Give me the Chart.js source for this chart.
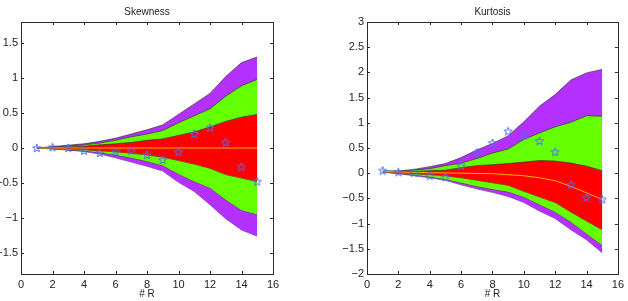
<!DOCTYPE html>
<html>
<head>
<meta charset="utf-8">
<script src="https://cdn.jsdelivr.net/npm/chart.js@4.4.1/dist/chart.umd.min.js"></script>
<style>
  html, body { margin: 0; padding: 0; background: #fff; }
  .panel { position: absolute; top: 0; width: 314px; height: 301px; }
</style>
</head>
<body>
<div class="panel" style="left:0"><canvas id="skewChart" width="314" height="301"></canvas></div>
<div class="panel" style="left:314px"><canvas id="kurtChart" width="314" height="301"></canvas></div>
<script>
// x positions (# R) and tick values
const rValues = [1, 2, 3, 4, 5, 6, 7, 8, 9, 10, 11, 12, 13, 14, 15];
const xTicks = [0, 2, 4, 6, 8, 10, 12, 14, 16];
const skewYTicks = [-1.5, -1, -0.5, 0, 0.5, 1, 1.5];
const kurtYTicks = [-2, -1.5, -1, -0.5, 0, 0.5, 1, 1.5, 2, 2.5, 3];

// Skewness bands
const skewPurpleHi = [0, 0.02, 0.04, 0.06, 0.095, 0.14, 0.2, 0.26, 0.33, 0.48, 0.63, 0.78, 1.02, 1.22, 1.3];
const skewGreenHi = [0, 0.01, 0.025, 0.045, 0.07, 0.11, 0.16, 0.2, 0.25, 0.36, 0.46, 0.56, 0.74, 0.89, 0.98];
const skewRedHi = [0, 0.005, 0.015, 0.025, 0.045, 0.06, 0.08, 0.11, 0.13, 0.18, 0.23, 0.3, 0.38, 0.44, 0.48];
const skewMedian = [0, 0, 0, 0, 0, 0, 0, 0, 0, 0, 0, 0, 0, 0, 0];
const skewRedLo = [0, -0.005, -0.015, -0.025, -0.04, -0.055, -0.075, -0.1, -0.13, -0.18, -0.23, -0.29, -0.38, -0.43, -0.48];
const skewGreenLo = [0, -0.01, -0.025, -0.04, -0.065, -0.1, -0.14, -0.19, -0.25, -0.37, -0.48, -0.57, -0.74, -0.89, -0.95];
const skewPurpleLo = [0, -0.015, -0.03, -0.05, -0.085, -0.14, -0.2, -0.26, -0.33, -0.49, -0.62, -0.81, -1.01, -1.17, -1.26];
const skewObserved = [0, 0.01, 0, -0.04, -0.07, -0.05, -0.04, -0.1, -0.17, -0.06, 0.2, 0.29, 0.08, -0.27, -0.48];

// Kurtosis bands
const kurtPurpleHi = [0.045, 0.045, 0.075, 0.13, 0.19, 0.31, 0.46, 0.59, 0.74, 1.02, 1.33, 1.56, 1.85, 1.99, 2.06];
const kurtGreenHi = [0.04, 0.04, 0.06, 0.09, 0.15, 0.2, 0.29, 0.4, 0.48, 0.67, 0.8, 0.92, 1.01, 1.14, 1.13];
const kurtRedHi = [0.04, 0.03, 0.035, 0.05, 0.06, 0.11, 0.15, 0.17, 0.19, 0.22, 0.25, 0.24, 0.2, 0.14, 0.05];
const kurtMedian = [0.035, 0.025, 0.015, 0.01, 0.005, 0, -0.005, -0.01, -0.03, -0.05, -0.09, -0.15, -0.26, -0.39, -0.52];
const kurtRedLo = [0.03, 0.01, -0.01, -0.03, -0.05, -0.09, -0.14, -0.19, -0.24, -0.36, -0.47, -0.58, -0.77, -0.95, -1.12];
const kurtGreenLo = [0.025, 0, -0.03, -0.07, -0.12, -0.19, -0.26, -0.32, -0.37, -0.47, -0.62, -0.77, -0.97, -1.2, -1.43];
const kurtPurpleLo = [0.02, -0.01, -0.05, -0.09, -0.14, -0.23, -0.31, -0.38, -0.46, -0.58, -0.75, -0.9, -1.12, -1.32, -1.58];
const kurtObserved = [0.05, 0.02, 0.01, -0.05, -0.08, 0.15, 0.41, 0.6, 0.83, 0.75, 0.64, 0.42, -0.23, -0.48, -0.52];

const FONT = '"Liberation Sans", Arial, sans-serif';
const PURPLE = 'rgb(180, 48, 255)';
const GREEN = 'rgb(100, 255, 0)';
const RED = 'rgb(255, 0, 0)';
const EDGE = 'rgba(50, 50, 50, 0.85)';
const MEDIAN = 'rgb(255, 176, 0)';
const STAR = 'rgb(80, 110, 245)';

// pentagram marker like matlab's 'p'
function makeStar() {
  const c = document.createElement('canvas');
  c.width = 10; c.height = 10;
  const g = c.getContext('2d');
  const R = 4.4, r = 1.8, cx = 5, cy = 5.3;
  g.beginPath();
  for (let i = 0; i < 10; i++) {
    const rad = i % 2 === 0 ? R : r;
    const a = -Math.PI / 2 + i * Math.PI / 5;
    const px = cx + rad * Math.cos(a), py = cy + rad * Math.sin(a);
    if (i === 0) g.moveTo(px, py); else g.lineTo(px, py);
  }
  g.closePath();
  g.strokeStyle = STAR;
  g.lineWidth = 1;
  g.stroke();
  return c;
}
const starImg = makeStar();

const pts = vals => vals.map((v, i) => ({ x: rValues[i], y: v }));
const fmt = v => String(v).replace('-', '\u2212');

function band(hi, lo, color, order) {
  return [
    { data: pts(hi), fill: '+1', backgroundColor: color, borderColor: EDGE, borderWidth: 0.8, pointRadius: 0, order: order },
    { data: pts(lo), fill: false, borderColor: EDGE, borderWidth: 0.8, pointRadius: 0, order: order }
  ];
}

// matlab-ish box with inward ticks and a title above the plot
const boxPlugin = {
  id: 'matlabBox',
  afterDraw(chart, args, opts) {
    const { ctx, chartArea: a, scales } = chart;
    ctx.save();
    ctx.strokeStyle = '#2a2a2a';
    ctx.lineWidth = 1;
    ctx.strokeRect(Math.round(a.left) + 0.5, Math.round(a.top) + 0.5, Math.round(a.right - a.left), Math.round(a.bottom - a.top));
    ctx.beginPath();
    scales.x.ticks.forEach(t => {
      const px = Math.round(scales.x.getPixelForValue(t.value)) + 0.5;
      ctx.moveTo(px, a.bottom); ctx.lineTo(px, a.bottom - 3);
      ctx.moveTo(px, a.top); ctx.lineTo(px, a.top + 3);
    });
    scales.y.ticks.forEach(t => {
      const py = Math.round(scales.y.getPixelForValue(t.value)) + 0.5;
      ctx.moveTo(a.left, py); ctx.lineTo(a.left + 3, py);
      ctx.moveTo(a.right, py); ctx.lineTo(a.right - 3, py);
    });
    ctx.stroke();
    ctx.fillStyle = '#222';
    ctx.font = '10px ' + FONT;
    ctx.textAlign = 'center';
    ctx.textBaseline = 'middle';
    ctx.fillText(opts.text, (a.left + a.right) / 2, 12.5);
    ctx.restore();
  }
};

function makeChart(id, cfg) {
  return new Chart(document.getElementById(id), {
    type: 'line',
    data: {
      datasets: [
        { data: pts(cfg.observed), showLine: false, pointStyle: starImg, pointRadius: 5, order: 0 },
        { data: pts(cfg.median), borderColor: MEDIAN, borderWidth: 1, pointRadius: 0, fill: false, order: 1 },
        ...band(cfg.redHi, cfg.redLo, RED, 2),
        ...band(cfg.greenHi, cfg.greenLo, GREEN, 3),
        ...band(cfg.purpleHi, cfg.purpleLo, PURPLE, 4)
      ]
    },
    options: {
      responsive: false,
      animation: false,
      layout: { padding: { top: 22, bottom: 0, left: 0, right: cfg.padRight } },
      plugins: {
        legend: { display: false },
        tooltip: { enabled: false },
        matlabBox: { text: cfg.title }
      },
      scales: {
        x: {
          type: 'linear', min: 0, max: 16,
          afterBuildTicks: s => { s.ticks = xTicks.map(v => ({ value: v })); },
          afterFit: s => { s.height = 27; },
          grid: { display: false, drawTicks: false },
          border: { display: false },
          ticks: { padding: 4, color: '#222', font: { family: FONT, size: 11 }, callback: v => fmt(v) },
          title: { display: true, text: '# R', color: '#222', font: { family: FONT, size: 10 }, padding: { top: 0, bottom: 1 } }
        },
        y: {
          min: cfg.yMin, max: cfg.yMax,
          afterBuildTicks: s => { s.ticks = cfg.yTicks.map(v => ({ value: v })); },
          afterFit: s => { s.width = cfg.yWidth; },
          grid: { display: false, drawTicks: false },
          border: { display: false },
          ticks: { padding: 3, color: '#222', font: { family: FONT, size: 11 }, callback: v => fmt(v) }
        }
      }
    },
    plugins: [boxPlugin]
  });
}

makeChart('skewChart', {
  title: 'Skewness', yMin: -1.8, yMax: 1.8, yTicks: skewYTicks, yWidth: 21, padRight: 41,
  purpleHi: skewPurpleHi, greenHi: skewGreenHi, redHi: skewRedHi, median: skewMedian,
  redLo: skewRedLo, greenLo: skewGreenLo, purpleLo: skewPurpleLo, observed: skewObserved
});

makeChart('kurtChart', {
  title: 'Kurtosis', yMin: -2, yMax: 3, yTicks: kurtYTicks, yWidth: 53, padRight: 9,
  purpleHi: kurtPurpleHi, greenHi: kurtGreenHi, redHi: kurtRedHi, median: kurtMedian,
  redLo: kurtRedLo, greenLo: kurtGreenLo, purpleLo: kurtPurpleLo, observed: kurtObserved
});
</script>
</body>
</html>
